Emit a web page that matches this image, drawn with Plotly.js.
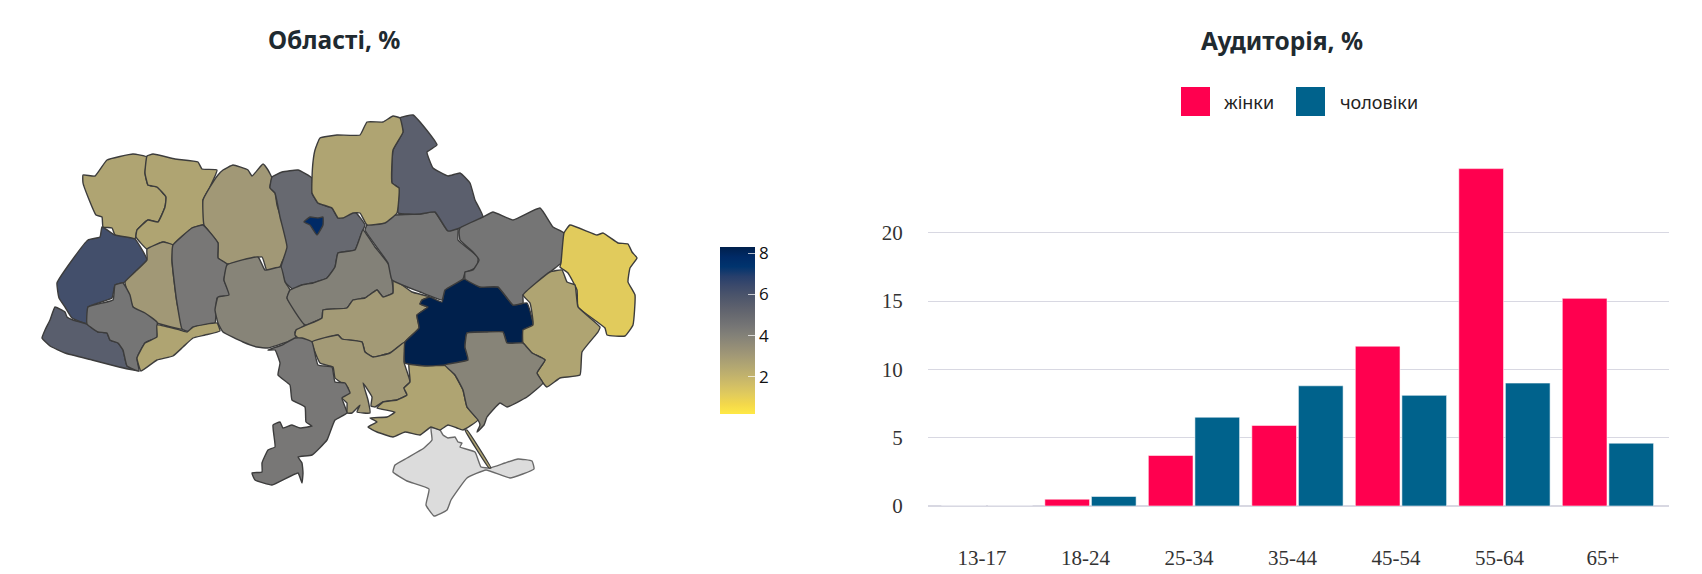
<!DOCTYPE html>
<html><head><meta charset="utf-8">
<script src="https://cdn.plot.ly/plotly-3.0.1.min.js"></script>
<style>html,body{margin:0;padding:0;background:#fff}#c{width:1702px;height:574px}</style>
</head><body><div id="c"></div>
<script>
// ---- bar data ----
const ages = ['13-17','18-24','25-34','35-44','45-54','55-64','65+'];
const women = [0,0.5,3.7,5.9,11.7,24.7,15.2];
const men = [0,0.7,6.5,8.8,8.1,9.0,4.6];
const womenName = 'жінки', menName = 'чоловіки';
const womenColor = '#ff004f', menColor = '#00628c';
const mapTitle = 'Області, %', barTitle = 'Аудиторія, %';
const colorbarTicks = [2,4,6,8];
// ---- region outlines (map units) ----
const crimea=[[431,428],[435,428],[440,430],[443,435],[448,438],[455,437],[458,442],[462,443],[460,447],[475,452],[481,467],[490,468],[505,463],[518,459],[532,461],[534,469],[510,478],[486,470],[467,478],[451,500],[447,510],[434,516],[426,505],[429,489],[407,481],[393,472],[395,465],[407,458],[424,448],[432,440]];
const volyn=[[83,175],[95,176],[107,160],[133,154],[147,157],[145,173],[148,185],[157,187],[166,197],[165,207],[158,222],[148,220],[137,230],[135,239],[115,235],[112,228],[103,227],[102,217],[96,215],[88,197],[83,183]];
const rivne=[[147,156],[153,154],[175,159],[198,162],[202,169],[217,170],[210,187],[203,200],[205,224],[192,228],[173,245],[163,242],[147,249],[136,237],[137,230],[148,220],[158,222],[165,207],[166,197],[157,187],[148,185],[145,173]];
const zhytomyr=[[218,175],[223,170],[233,165],[248,170],[252,176],[263,164],[268,170],[272,178],[270,187],[275,193],[277,205],[287,237],[288,250],[282,262],[280,267],[267,271],[262,257],[227,264],[218,258],[218,243],[204,225],[203,200],[210,187]];
const lviv=[[102,227],[115,235],[135,239],[145,255],[147,260],[135,272],[125,282],[115,285],[112,298],[88,307],[88,324],[72,318],[65,307],[59,298],[57,283],[70,263],[88,240],[100,237]];
const ternopil=[[147,249],[163,242],[173,245],[172,260],[174,280],[177,303],[182,329],[157,323],[145,317],[133,307],[125,282],[135,272],[147,260]];
const khmelnytskyi=[[173,245],[192,228],[203,225],[218,243],[218,258],[227,264],[224,280],[230,295],[217,298],[215,323],[195,327],[190,332],[182,329],[177,303],[174,280],[172,260]];
const zakarpattia=[[55,307],[65,312],[67,317],[73,320],[87,324],[98,332],[107,333],[110,340],[118,343],[123,350],[127,366],[139,371],[119,367],[92,360],[65,353],[50,346],[42,338],[45,330],[50,320]];
const ivano=[[88,307],[113,300],[115,285],[123,283],[130,295],[133,307],[145,313],[157,322],[157,337],[145,343],[137,358],[139,371],[127,366],[123,350],[118,343],[110,340],[107,333],[98,332],[87,324]];
const chernivtsi=[[157,325],[180,330],[187,332],[193,327],[217,323],[220,331],[205,335],[193,338],[183,347],[173,356],[157,360],[141,371],[137,358],[145,343],[157,337]];
const kyivObl=[[272,177],[282,172],[298,170],[312,178],[312,193],[318,203],[332,208],[338,218],[355,212],[365,225],[362,232],[355,250],[338,253],[335,267],[327,278],[313,283],[302,285],[294,290],[285,282],[281,267],[287,247],[280,217],[275,193],[270,188]];
const kyivCity=[[304,222],[310,217],[318,218],[323,217],[323,225],[317,235],[310,225]];
const vinnytsia=[[227,265],[258,257],[265,270],[281,267],[285,282],[290,290],[287,298],[305,325],[295,332],[296,338],[268,348],[257,347],[243,342],[223,332],[218,323],[215,310],[218,297],[229,295],[224,280]];
const cherkasy=[[290,290],[302,285],[313,283],[327,278],[335,267],[338,253],[355,250],[363,230],[375,247],[389,265],[393,293],[383,297],[377,290],[365,298],[353,300],[347,308],[323,310],[322,318],[305,325],[287,298]];
const kirovohrad=[[296,330],[322,318],[323,310],[347,308],[353,300],[365,298],[377,290],[383,297],[393,293],[393,280],[395,280],[412,292],[430,297],[422,300],[420,304],[428,307],[417,315],[419,328],[405,342],[390,353],[373,357],[365,352],[362,342],[342,339],[338,335],[313,342],[303,342],[295,335]];
const mykolaiv=[[312,342],[338,335],[342,339],[362,342],[365,352],[373,357],[390,353],[405,342],[404,362],[410,382],[404,388],[407,395],[397,400],[383,402],[375,407],[371,406],[372,397],[363,383],[368,400],[370,413],[357,412],[360,405],[352,413],[347,413],[347,403],[342,398],[348,388],[335,378],[333,367],[320,363]];
const odesa=[[295,338],[302,338],[312,342],[318,365],[332,367],[335,382],[345,383],[350,393],[342,398],[347,413],[335,420],[327,440],[312,455],[298,457],[302,463],[303,473],[302,483],[298,473],[272,485],[255,480],[252,473],[262,472],[262,463],[268,450],[275,447],[273,425],[280,422],[283,428],[292,425],[300,428],[312,426],[306,422],[305,407],[292,400],[290,385],[278,375],[280,363],[275,350],[268,350],[282,345]];
const kherson=[[409,363],[430,365],[447,366],[455,375],[463,390],[467,407],[478,420],[463,430],[457,428],[448,425],[440,430],[431,427],[420,435],[405,432],[393,437],[377,432],[368,427],[377,422],[370,418],[387,417],[395,412],[377,408],[383,402],[397,400],[407,395],[404,388],[410,382]];
const arabat=[[465,430],[467,430],[491,468],[489,468]];
const dnipro=[[405,342],[419,328],[417,315],[428,307],[420,304],[422,300],[430,297],[442,302],[445,288],[465,279],[480,287],[498,287],[513,305],[527,303],[533,325],[523,330],[522,343],[507,343],[503,332],[487,332],[467,333],[465,347],[468,360],[445,365],[427,366],[405,363]];
const poltava=[[367,225],[395,215],[420,214],[435,212],[447,230],[458,229],[458,240],[478,257],[477,267],[465,273],[463,279],[445,290],[442,300],[420,292],[392,280],[388,263],[365,230]];
const sumy=[[400,118],[413,115],[425,128],[437,145],[427,152],[433,168],[448,176],[460,173],[470,183],[475,200],[483,217],[460,228],[448,231],[435,212],[420,214],[398,213],[399,188],[392,183],[393,150],[403,132]];
const chernihiv=[[400,118],[403,132],[393,150],[392,183],[399,188],[397,213],[385,223],[367,225],[360,213],[353,213],[343,218],[338,218],[332,208],[318,203],[312,193],[312,178],[313,162],[315,150],[320,138],[337,135],[360,135],[367,122],[383,122],[393,116]];
const kharkiv=[[460,228],[483,217],[493,212],[513,220],[540,208],[553,227],[564,233],[561,263],[550,272],[537,290],[523,295],[523,303],[513,305],[498,287],[480,287],[465,279],[465,272],[473,270],[479,260],[473,252],[460,240],[459,232]];
const luhansk=[[564,233],[570,225],[597,235],[603,233],[618,243],[628,244],[632,252],[637,258],[630,268],[628,282],[635,295],[633,325],[625,336],[607,335],[605,328],[578,307],[577,290],[568,273],[560,267],[561,263]];
const donetsk=[[523,295],[550,272],[562,270],[567,282],[575,285],[578,307],[600,327],[598,332],[582,352],[580,375],[560,378],[547,387],[543,383],[537,373],[545,360],[532,353],[523,343],[523,330],[533,325],[530,303]];
const zaporizhzhia=[[445,365],[468,360],[465,347],[467,333],[487,332],[503,332],[507,343],[523,343],[532,353],[545,360],[537,373],[543,383],[527,397],[507,407],[500,403],[487,417],[484,425],[477,432],[480,425],[478,420],[467,407],[463,390],[455,375]];
// ---- region values (%) ----
const regions=[
 [volyn,2.6],[rivne,2.6],[zhytomyr,3.05],[lviv,6.2],[ternopil,3.05],[khmelnytskyi,4.4],[zakarpattia,5.5],[ivano,4.5],[chernivtsi,2.6],
 [kyivObl,5.0],[vinnytsia,3.9],[cherkasy,4.0],[kirovohrad,3.0],[mykolaiv,3.0],[odesa,4.4],[kherson,2.6],[arabat,2.6],[dnipro,8.3],
 [poltava,4.5],[sumy,5.45],[chernihiv,2.6],[kharkiv,4.5],[luhansk,1.15],[donetsk,2.6],[zaporizhzhia,3.9],[kyivCity,7.8]];
const noDataColor='#dcdcdc';
const vmin=0.2, vmax=8.3;
const scale=[[0,'rgb(255,233,69)'],[0.059,'rgb(243,216,75)'],[0.118,'rgb(225,203,92)'],[0.176,'rgb(209,190,102)'],[0.235,'rgb(192,177,109)'],[0.294,'rgb(176,165,114)'],[0.353,'rgb(161,152,118)'],[0.412,'rgb(146,140,119)'],[0.471,'rgb(131,129,120)'],[0.529,'rgb(117,117,117)'],[0.588,'rgb(104,106,112)'],[0.647,'rgb(91,95,109)'],[0.706,'rgb(76,85,107)'],[0.765,'rgb(60,74,107)'],[0.824,'rgb(39,63,108)'],[0.882,'rgb(0,52,110)'],[0.941,'rgb(0,42,102)'],[1,'rgb(0,32,76)']];
function colorOf(v){
  const t=Math.max(0,Math.min(1,(v-vmin)/(vmax-vmin)));
  for(let i=1;i<scale.length;i++){ if(t<=scale[i][0]){
    const a=scale[i-1],b=scale[i],f=(t-a[0])/(b[0]-a[0]);
    const pa=a[1].match(/\d+/g).map(Number),pb=b[1].match(/\d+/g).map(Number);
    return 'rgb('+pa.map((c,k)=>Math.round(c+(pb[k]-c)*f)).join(',')+')';
  }}
  return scale[scale.length-1][1];
}
const W=1702,H=574;
const px=x=>x/W, py=y=>1-y/H;
function poly(pts,fill,line){
  const c=pts.concat([pts[0]]);
  return {type:'scatter',mode:'lines',x:c.map(p=>p[0]),y:c.map(p=>p[1]),fill:'toself',fillcolor:fill,
    line:{color:line,width:1.4,shape:'spline',smoothing:0.35},hoverinfo:'skip',showlegend:false,xaxis:'x',yaxis:'y'};
}
const traces=[poly(crimea,noDataColor,'#6a6a6a')];
regions.forEach(r=>traces.push(poly(r[0],colorOf(r[1]),'#3c3c3c')));
const cbTop=247,cbBottom=414,cbLeft=720,cbThick=35;
traces.push({type:'scatter',mode:'markers',x:[0,0],y:[0,0],xaxis:'x',yaxis:'y',showlegend:false,hoverinfo:'skip',
  marker:{size:0.01,color:[vmin,vmax],cmin:vmin,cmax:vmax,colorscale:scale,showscale:true,
    colorbar:{thickness:cbThick,thicknessmode:'pixels',len:cbBottom-cbTop,lenmode:'pixels',x:px(cbLeft),xanchor:'left',xpad:0,y:py(cbBottom),yanchor:'bottom',ypad:0,
      outlinewidth:0,ticks:'inside',ticklen:7,tickwidth:1,tickcolor:'rgba(255,255,255,0.7)',tickvals:colorbarTicks,
      tickfont:{family:'Open Sans',size:17,color:'#111'}}}});
const barLine={color:'rgba(255,255,255,0.55)',width:1};
traces.push({type:'bar',name:womenName,x:ages,y:women,marker:{color:womenColor,line:barLine},xaxis:'x2',yaxis:'y2',showlegend:false,hoverinfo:'skip'});
traces.push({type:'bar',name:menName,x:ages,y:men,marker:{color:menColor,line:barLine},xaxis:'x2',yaxis:'y2',showlegend:false,hoverinfo:'skip'});
const serif={family:'Liberation Serif',size:21,color:'#333'};
const cbY=v=>py(cbBottom-(v-vmin)/(vmax-vmin)*(cbBottom-cbTop));
const layout={
  width:W,height:H,margin:{l:0,r:0,t:0,b:0},paper_bgcolor:'#fff',plot_bgcolor:'rgba(0,0,0,0)',
  barmode:'group',bargap:0.1,bargroupgap:0.04,
  xaxis:{domain:[0,px(700)],range:[0,700],visible:false,fixedrange:true},
  yaxis:{domain:[0,1],range:[574,0],visible:false,fixedrange:true},
  xaxis2:{domain:[px(928),px(1669)],range:[-0.57,6.59],type:'category',categoryorder:'array',categoryarray:ages,anchor:'y2',
    showgrid:false,zeroline:false,showline:false,ticks:'outside',ticklen:33,tickcolor:'rgba(0,0,0,0)',tickfont:serif,ticklabelshift:-5,fixedrange:true},
  yaxis2:{domain:[py(506),py(160)],range:[0,25.33],anchor:'x2',tickvals:[0,5,10,15,20],gridcolor:'#d8d8e2',gridwidth:1.2,
    zeroline:true,zerolinecolor:'#d8d8e2',zerolinewidth:1.2,showline:false,ticks:'outside',ticklen:20,tickcolor:'rgba(0,0,0,0)',tickfont:serif,fixedrange:true},
  shapes:[
    {type:'rect',xref:'paper',yref:'paper',x0:px(1181),x1:px(1210),y0:py(116),y1:py(87),fillcolor:womenColor,line:{width:0}},
    {type:'rect',xref:'paper',yref:'paper',x0:px(1296),x1:px(1325),y0:py(116),y1:py(87),fillcolor:menColor,line:{width:0}}
  ].concat(colorbarTicks.map(v=>({type:'line',xref:'paper',yref:'paper',x0:px(cbLeft),x1:px(cbLeft+7),y0:cbY(v),y1:cbY(v),line:{color:'rgba(255,255,255,0.7)',width:1}}))),
  annotations:[
    {xref:'paper',yref:'paper',x:px(334),y:py(40),xanchor:'center',yanchor:'middle',text:'<b>'+mapTitle+'</b>',showarrow:false,font:{family:'Noto Sans',size:24.5,color:'#1f2a30'}},
    {xref:'paper',yref:'paper',x:px(1282),y:py(41),xanchor:'center',yanchor:'middle',text:'<b>'+barTitle+'</b>',showarrow:false,font:{family:'Noto Sans',size:24.5,color:'#1f2a30'}},
    {xref:'paper',yref:'paper',x:px(1222),y:py(102),xanchor:'left',yanchor:'middle',text:womenName,showarrow:false,font:{family:'Noto Sans',size:18,color:'#222'}},
    {xref:'paper',yref:'paper',x:px(1338),y:py(102),xanchor:'left',yanchor:'middle',text:menName,showarrow:false,font:{family:'Noto Sans',size:18,color:'#222'}}
  ]
};
Plotly.newPlot('c',traces,layout,{displayModeBar:false,staticPlot:true});
</script></body></html>
